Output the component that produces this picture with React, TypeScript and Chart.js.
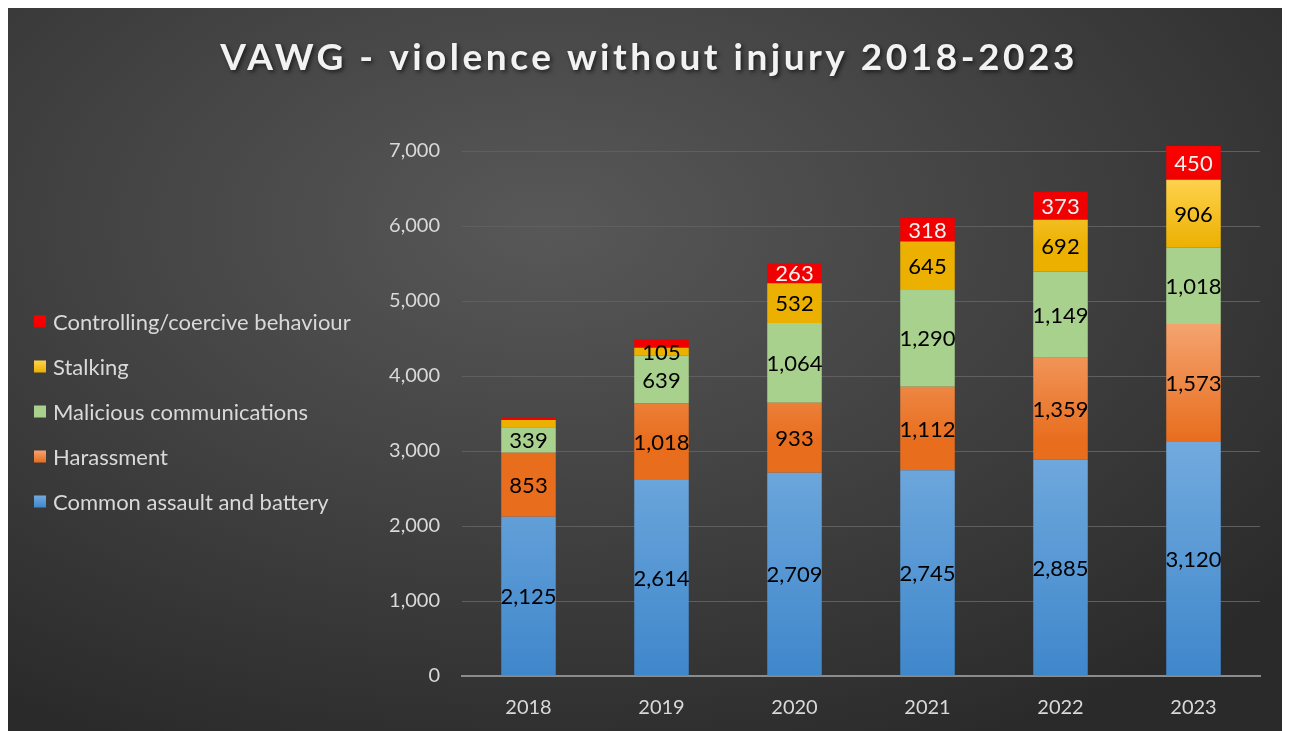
import React, { useEffect, useRef } from 'react';
import { Chart, registerables } from 'chart.js';

Chart.register(...registerables);

const chartTitle = 'VAWG - violence without injury 2018-2023';
const years = ['2018', '2019', '2020', '2021', '2022', '2023'];
const commonAssault = [2125, 2614, 2709, 2745, 2885, 3120];
const harassment = [853, 1018, 933, 1112, 1359, 1573];
const malicious = [339, 639, 1064, 1290, 1149, 1018];
const stalking = [95, 105, 532, 645, 692, 906];
const controlling = [35, 110, 263, 318, 373, 450];
const stalkingLabelled = [false, true, true, true, true, true];
const controllingLabelled = [false, false, true, true, true, true];
const yMax = 7000;
const yStep = 1000;

const FONT = 'Lato, "Open Sans", sans-serif';

type Grad = [string, string];

const seriesStyle: { label: string; data: number[]; grad: Grad; solid: string; text: string; shown: boolean[] }[] = [
  { label: 'Common assault and battery', data: commonAssault, grad: ['#72aade', '#3f87cb'], solid: '#5b9bd5', text: '#000000', shown: commonAssault.map(() => true) },
  { label: 'Harassment', data: harassment, grad: ['#f4a36f', '#e86d1d'], solid: '#ed7d31', text: '#000000', shown: harassment.map(() => true) },
  { label: 'Malicious communications', data: malicious, grad: ['#a9d18e', '#a9d18e'], solid: '#a9d18e', text: '#000000', shown: malicious.map(() => true) },
  { label: 'Stalking', data: stalking, grad: ['#ffd24d', '#ebb000'], solid: '#ffc000', text: '#000000', shown: stalkingLabelled },
  { label: 'Controlling/coercive behaviour', data: controlling, grad: ['#ff0000', '#f00000'], solid: '#ff0000', text: '#f2f2f2', shown: controllingLabelled },
];

const gradientPlugin = {
  id: 'segGradient',
  beforeDatasetsDraw(chart: any) {
    const ctx = chart.ctx;
    chart.data.datasets.forEach((ds: any, di: number) => {
      const meta = chart.getDatasetMeta(di);
      const st = seriesStyle[di];
      meta.data.forEach((el: any, i: number) => {
        const top = Math.min(el.y, el.base);
        const bot = Math.max(el.y, el.base);
        if (!isFinite(top) || !isFinite(bot) || bot - top < 0.5) return;
        let c0 = st.grad[0];
        let c1 = st.grad[1];
        if (di === 3 && i === 1) { c0 = '#a88a1a'; c1 = '#8a6a10'; }
        if (di === 4 && i === 1) { c0 = '#ff0000'; c1 = '#b00000'; }
        const g = ctx.createLinearGradient(0, top, 0, bot);
        g.addColorStop(0, c0);
        g.addColorStop(1, c1);
        el.options.backgroundColor = g;
      });
    });
  },
};

const labelPlugin = {
  id: 'segLabels',
  afterDatasetsDraw(chart: any) {
    const ctx = chart.ctx;
    ctx.save();
    ctx.font = `22px ${FONT}`;
    ctx.textAlign = 'center';
    ctx.textBaseline = 'middle';
    chart.data.datasets.forEach((ds: any, di: number) => {
      const meta = chart.getDatasetMeta(di);
      const st = seriesStyle[di];
      meta.data.forEach((el: any, i: number) => {
        if (!st.shown[i]) return;
        const v = ds.data[i] as number;
        ctx.fillStyle = st.text;
        ctx.fillText(v.toLocaleString('en-US'), el.x, (el.y + el.base) / 2 + 1);
      });
    });
    ctx.restore();
  },
};

const legendPlugin = {
  id: 'sideLegend',
  afterDraw(chart: any) {
    const ctx = chart.ctx;
    const items = [...seriesStyle].reverse();
    const gap = 45;
    const cy = (chart.chartArea.top + chart.chartArea.bottom) / 2 - 2;
    const startY = cy - ((items.length - 1) * gap) / 2;
    ctx.save();
    ctx.font = `22px ${FONT}`;
    ctx.textAlign = 'left';
    ctx.textBaseline = 'middle';
    items.forEach((s, k) => {
      const y = startY + k * gap;
      const g = ctx.createLinearGradient(0, y - 6, 0, y + 6);
      g.addColorStop(0, s.grad[0]);
      g.addColorStop(1, s.grad[1]);
      ctx.fillStyle = g;
      ctx.fillRect(26, y - 6, 12, 12);
      ctx.fillStyle = '#d9d9d9';
      ctx.fillText(s.label, 45, y + 1);
    });
    ctx.restore();
  },
};

const titlePlugin = {
  id: 'spacedTitle',
  afterDraw(chart: any) {
    const ctx = chart.ctx;
    ctx.save();
    ctx.font = `bold 37px ${FONT}`;
    (ctx as any).letterSpacing = '3.5px';
    ctx.textAlign = 'center';
    ctx.textBaseline = 'middle';
    ctx.shadowColor = 'rgba(0,0,0,0.6)';
    ctx.shadowBlur = 4;
    ctx.shadowOffsetX = 2;
    ctx.shadowOffsetY = 2;
    ctx.fillStyle = '#f2f2f2';
    ctx.fillText(chartTitle, chart.width / 2, 50);
    ctx.restore();
  },
};

export default function App() {
  const ref = useRef<HTMLCanvasElement | null>(null);

  useEffect(() => {
    if (!ref.current) return;
    const chart = new Chart(ref.current, {
      type: 'bar',
      data: {
        labels: years,
        datasets: seriesStyle.map((s) => ({
          label: s.label,
          data: s.data,
          backgroundColor: s.solid,
          borderWidth: 0,
          categoryPercentage: 1,
          barPercentage: 0.41,
          clip: false as any,
        })),
      },
      options: {
        responsive: false,
        animation: false,
        layout: { padding: { top: 143, left: 350, right: 30, bottom: 10 } },
        plugins: {
          title: { display: false },
          tooltip: { enabled: false },
          legend: { display: false },
        },
        scales: {
          x: {
            stacked: true,
            grid: { display: false, drawTicks: false },
            border: { display: true, color: '#8c8c8c', width: 2 },
            ticks: { color: '#d9d9d9', font: { family: FONT, size: 20 }, padding: 20 },
            afterFit: (scale: any) => { scale.height = 45; },
          },
          y: {
            stacked: true,
            min: 0,
            max: yMax,
            ticks: {
              stepSize: yStep,
              color: '#d9d9d9',
              font: { family: FONT, size: 20 },
              padding: 22,
              callback: (v: any) => Number(v).toLocaleString('en-US'),
            },
            grid: { color: '#5f5f5f', lineWidth: 1, drawTicks: false },
            border: { display: false },
            afterFit: (scale: any) => { scale.width = 104; },
          },
        },
      },
      plugins: [gradientPlugin, labelPlugin, legendPlugin, titlePlugin],
    });
    return () => chart.destroy();
  }, []);

  return (
    <div
      style={{
        width: 1282,
        height: 723,
        background: 'radial-gradient(ellipse 75% 80% at 42% 30%, #585858 0%, #444444 45%, #2a2a2a 100%)',
      }}
    >
      <canvas ref={ref} width={1282} height={723} style={{ display: 'block' }} />
    </div>
  );
}
